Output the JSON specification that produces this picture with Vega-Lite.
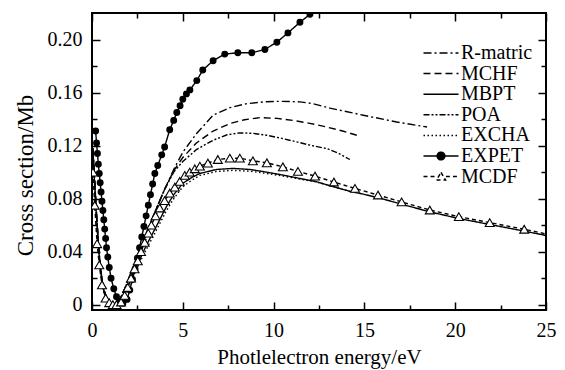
{
  "$schema": "https://vega.github.io/schema/vega-lite/v6.json",
  "width": 454,
  "height": 297,
  "autosize": "none",
  "padding": {"left": 92, "top": 13, "right": 19, "bottom": 60},
  "background": "white",
  "config": {
    "view": {"stroke": "black", "strokeWidth": 2},
    "font": "Liberation Serif",
    "axis": {
      "domain": false, "grid": false, "tickColor": "black", "tickWidth": 1.5,
      "labelFont": "Liberation Serif", "labelFontSize": 20, "labelColor": "black",
      "labelFlush": false, "labelOverlap": false,
      "titleFont": "Liberation Serif", "titleFontWeight": "normal", "titleColor": "black"
    }
  },
  "datasets": {
    "c": [
      {"s":"R-matric","x":0.05,"y":0.118},{"s":"R-matric","x":0.15,"y":0.093},{"s":"R-matric","x":0.25,"y":0.068},{"s":"R-matric","x":0.35,"y":0.047},{"s":"R-matric","x":0.45,"y":0.030},{"s":"R-matric","x":0.6,"y":0.014},{"s":"R-matric","x":0.8,"y":0.005},{"s":"R-matric","x":1.0,"y":0.001},{"s":"R-matric","x":1.2,"y":0.0},{"s":"R-matric","x":1.4,"y":0.002},{"s":"R-matric","x":1.6,"y":0.006},{"s":"R-matric","x":1.8,"y":0.012},{"s":"R-matric","x":2.0,"y":0.019},{"s":"R-matric","x":2.3,"y":0.029},{"s":"R-matric","x":2.6,"y":0.040},{"s":"R-matric","x":3.0,"y":0.054},{"s":"R-matric","x":3.5,"y":0.071},{"s":"R-matric","x":4.0,"y":0.087},{"s":"R-matric","x":4.5,"y":0.102},{"s":"R-matric","x":5.0,"y":0.115},{"s":"R-matric","x":5.75,"y":0.129},{"s":"R-matric","x":6.67,"y":0.1429},{"s":"R-matric","x":7.59,"y":0.1486},{"s":"R-matric","x":8.51,"y":0.1516},{"s":"R-matric","x":9.5,"y":0.153},{"s":"R-matric","x":10.35,"y":0.1534},{"s":"R-matric","x":11.45,"y":0.153},{"s":"R-matric","x":12.18,"y":0.1516},{"s":"R-matric","x":13.1,"y":0.1483},{"s":"R-matric","x":14.94,"y":0.1429},{"s":"R-matric","x":16.78,"y":0.1378},{"s":"R-matric","x":18.45,"y":0.134},
      {"s":"MCHF","x":0.05,"y":0.118},{"s":"MCHF","x":0.15,"y":0.093},{"s":"MCHF","x":0.25,"y":0.068},{"s":"MCHF","x":0.35,"y":0.047},{"s":"MCHF","x":0.45,"y":0.030},{"s":"MCHF","x":0.6,"y":0.014},{"s":"MCHF","x":0.8,"y":0.005},{"s":"MCHF","x":1.0,"y":0.001},{"s":"MCHF","x":1.2,"y":0.0},{"s":"MCHF","x":1.4,"y":0.002},{"s":"MCHF","x":1.6,"y":0.006},{"s":"MCHF","x":1.8,"y":0.012},{"s":"MCHF","x":2.0,"y":0.019},{"s":"MCHF","x":2.3,"y":0.029},{"s":"MCHF","x":2.6,"y":0.040},{"s":"MCHF","x":3.0,"y":0.054},{"s":"MCHF","x":3.5,"y":0.071},{"s":"MCHF","x":4.0,"y":0.087},{"s":"MCHF","x":4.5,"y":0.101},{"s":"MCHF","x":5.0,"y":0.111},{"s":"MCHF","x":5.75,"y":0.122},{"s":"MCHF","x":6.67,"y":0.131},{"s":"MCHF","x":7.59,"y":0.1366},{"s":"MCHF","x":8.4,"y":0.1395},{"s":"MCHF","x":9.25,"y":0.1411},{"s":"MCHF","x":10.2,"y":0.1405},{"s":"MCHF","x":11.08,"y":0.139},{"s":"MCHF","x":12.0,"y":0.1368},{"s":"MCHF","x":12.92,"y":0.134},{"s":"MCHF","x":13.8,"y":0.131},{"s":"MCHF","x":14.58,"y":0.1278},
      {"s":"POA","x":0.05,"y":0.118},{"s":"POA","x":0.15,"y":0.093},{"s":"POA","x":0.25,"y":0.068},{"s":"POA","x":0.35,"y":0.047},{"s":"POA","x":0.45,"y":0.030},{"s":"POA","x":0.6,"y":0.014},{"s":"POA","x":0.8,"y":0.005},{"s":"POA","x":1.0,"y":0.001},{"s":"POA","x":1.2,"y":0.0},{"s":"POA","x":1.4,"y":0.002},{"s":"POA","x":1.6,"y":0.006},{"s":"POA","x":1.8,"y":0.012},{"s":"POA","x":2.0,"y":0.019},{"s":"POA","x":2.3,"y":0.029},{"s":"POA","x":2.6,"y":0.040},{"s":"POA","x":3.0,"y":0.054},{"s":"POA","x":3.5,"y":0.071},{"s":"POA","x":4.0,"y":0.087},{"s":"POA","x":4.5,"y":0.100},{"s":"POA","x":5.0,"y":0.108},{"s":"POA","x":5.75,"y":0.117},{"s":"POA","x":6.67,"y":0.124},{"s":"POA","x":7.4,"y":0.128},{"s":"POA","x":8.14,"y":0.1296},{"s":"POA","x":8.9,"y":0.1292},{"s":"POA","x":9.61,"y":0.1278},{"s":"POA","x":10.4,"y":0.1256},{"s":"POA","x":11.27,"y":0.1228},{"s":"POA","x":12.1,"y":0.120},{"s":"POA","x":12.92,"y":0.1178},{"s":"POA","x":13.6,"y":0.114},{"s":"POA","x":14.2,"y":0.1095},
      {"s":"MBPT","x":0.05,"y":0.115},{"s":"MBPT","x":0.15,"y":0.09},{"s":"MBPT","x":0.25,"y":0.066},{"s":"MBPT","x":0.35,"y":0.045},{"s":"MBPT","x":0.45,"y":0.028},{"s":"MBPT","x":0.6,"y":0.013},{"s":"MBPT","x":0.8,"y":0.004},{"s":"MBPT","x":1.0,"y":0.0008},{"s":"MBPT","x":1.2,"y":0.0},{"s":"MBPT","x":1.4,"y":0.001},{"s":"MBPT","x":1.6,"y":0.004},{"s":"MBPT","x":1.8,"y":0.009},{"s":"MBPT","x":2.0,"y":0.015},{"s":"MBPT","x":2.3,"y":0.024},{"s":"MBPT","x":2.6,"y":0.033},{"s":"MBPT","x":3.0,"y":0.045},{"s":"MBPT","x":3.5,"y":0.058},{"s":"MBPT","x":4.1,"y":0.074},{"s":"MBPT","x":4.5,"y":0.083},{"s":"MBPT","x":5.0,"y":0.0915},{"s":"MBPT","x":5.5,"y":0.096},{"s":"MBPT","x":5.94,"y":0.099},{"s":"MBPT","x":6.86,"y":0.102},{"s":"MBPT","x":7.77,"y":0.1028},{"s":"MBPT","x":8.69,"y":0.102},{"s":"MBPT","x":9.61,"y":0.1},{"s":"MBPT","x":10.53,"y":0.0977},{"s":"MBPT","x":11.45,"y":0.0952},{"s":"MBPT","x":12.37,"y":0.0927},{"s":"MBPT","x":13.29,"y":0.089},{"s":"MBPT","x":14.2,"y":0.0855},{"s":"MBPT","x":15.0,"y":0.0832},{"s":"MBPT","x":16.0,"y":0.0798},{"s":"MBPT","x":17.0,"y":0.076},{"s":"MBPT","x":18.6,"y":0.07},{"s":"MBPT","x":20.2,"y":0.065},{"s":"MBPT","x":21.9,"y":0.0605},{"s":"MBPT","x":23.8,"y":0.0555},{"s":"MBPT","x":25.0,"y":0.0522},
      {"s":"EXCHA","x":0.05,"y":0.112},{"s":"EXCHA","x":0.15,"y":0.087},{"s":"EXCHA","x":0.25,"y":0.064},{"s":"EXCHA","x":0.35,"y":0.043},{"s":"EXCHA","x":0.45,"y":0.027},{"s":"EXCHA","x":0.6,"y":0.012},{"s":"EXCHA","x":0.8,"y":0.004},{"s":"EXCHA","x":1.0,"y":0.001},{"s":"EXCHA","x":1.2,"y":0.0},{"s":"EXCHA","x":1.4,"y":0.001},{"s":"EXCHA","x":1.6,"y":0.003},{"s":"EXCHA","x":1.8,"y":0.008},{"s":"EXCHA","x":2.0,"y":0.013},{"s":"EXCHA","x":2.3,"y":0.022},{"s":"EXCHA","x":2.6,"y":0.031},{"s":"EXCHA","x":3.0,"y":0.042},{"s":"EXCHA","x":3.5,"y":0.055},{"s":"EXCHA","x":4.1,"y":0.071},{"s":"EXCHA","x":4.5,"y":0.080},{"s":"EXCHA","x":5.0,"y":0.089},{"s":"EXCHA","x":5.5,"y":0.094},{"s":"EXCHA","x":5.94,"y":0.0975},{"s":"EXCHA","x":6.86,"y":0.1005},{"s":"EXCHA","x":7.77,"y":0.1013},{"s":"EXCHA","x":8.69,"y":0.1007},{"s":"EXCHA","x":9.61,"y":0.099},{"s":"EXCHA","x":10.53,"y":0.097},{"s":"EXCHA","x":11.45,"y":0.0948},{"s":"EXCHA","x":12.37,"y":0.0925},{"s":"EXCHA","x":13.29,"y":0.089},{"s":"EXCHA","x":14.2,"y":0.0855},
      {"s":"EXPET","x":0.2,"y":0.131},{"s":"EXPET","x":0.25,"y":0.122},{"s":"EXPET","x":0.3,"y":0.114},{"s":"EXPET","x":0.35,"y":0.106},{"s":"EXPET","x":0.4,"y":0.099},{"s":"EXPET","x":0.45,"y":0.092},{"s":"EXPET","x":0.5,"y":0.085},{"s":"EXPET","x":0.55,"y":0.078},{"s":"EXPET","x":0.6,"y":0.071},{"s":"EXPET","x":0.65,"y":0.064},{"s":"EXPET","x":0.7,"y":0.057},{"s":"EXPET","x":0.75,"y":0.05},{"s":"EXPET","x":0.8,"y":0.043},{"s":"EXPET","x":0.87,"y":0.036},{"s":"EXPET","x":0.95,"y":0.028},{"s":"EXPET","x":1.05,"y":0.02},{"s":"EXPET","x":1.2,"y":0.012},{"s":"EXPET","x":1.35,"y":0.006},{"s":"EXPET","x":1.5,"y":0.002},{"s":"EXPET","x":1.7,"y":0.001},{"s":"EXPET","x":1.93,"y":0.004},{"s":"EXPET","x":2.08,"y":0.011},{"s":"EXPET","x":2.23,"y":0.019},{"s":"EXPET","x":2.37,"y":0.027},{"s":"EXPET","x":2.5,"y":0.035},{"s":"EXPET","x":2.62,"y":0.043},{"s":"EXPET","x":2.74,"y":0.051},{"s":"EXPET","x":2.86,"y":0.059},{"s":"EXPET","x":2.98,"y":0.067},{"s":"EXPET","x":3.1,"y":0.075},{"s":"EXPET","x":3.22,"y":0.083},{"s":"EXPET","x":3.34,"y":0.091},{"s":"EXPET","x":3.46,"y":0.099},{"s":"EXPET","x":3.62,"y":0.105},{"s":"EXPET","x":3.84,"y":0.113},{"s":"EXPET","x":4.0,"y":0.119},{"s":"EXPET","x":4.28,"y":0.132},{"s":"EXPET","x":4.5,"y":0.139},{"s":"EXPET","x":4.67,"y":0.145},{"s":"EXPET","x":4.85,"y":0.15},{"s":"EXPET","x":5.0,"y":0.155},{"s":"EXPET","x":5.2,"y":0.159},{"s":"EXPET","x":5.39,"y":0.162},{"s":"EXPET","x":5.77,"y":0.169},{"s":"EXPET","x":6.1,"y":0.177},{"s":"EXPET","x":6.67,"y":0.184},{"s":"EXPET","x":7.31,"y":0.189},{"s":"EXPET","x":8.03,"y":0.19},{"s":"EXPET","x":8.8,"y":0.19},{"s":"EXPET","x":9.52,"y":0.1925},{"s":"EXPET","x":10.18,"y":0.198},{"s":"EXPET","x":10.79,"y":0.205},{"s":"EXPET","x":11.45,"y":0.213},{"s":"EXPET","x":12.0,"y":0.219},{"s":"EXPET","x":12.6,"y":0.226},
      {"s":"MCDF","x":0.05,"y":0.1},{"s":"MCDF","x":0.15,"y":0.075},{"s":"MCDF","x":0.28,"y":0.046},{"s":"MCDF","x":0.4,"y":0.03},{"s":"MCDF","x":0.55,"y":0.015},{"s":"MCDF","x":0.75,"y":0.005},{"s":"MCDF","x":0.95,"y":0.0015},{"s":"MCDF","x":1.15,"y":0.0},{"s":"MCDF","x":1.35,"y":0.0},{"s":"MCDF","x":1.6,"y":0.002},{"s":"MCDF","x":1.8,"y":0.007},{"s":"MCDF","x":1.97,"y":0.013},{"s":"MCDF","x":2.15,"y":0.02},{"s":"MCDF","x":2.34,"y":0.027},{"s":"MCDF","x":2.52,"y":0.033},{"s":"MCDF","x":2.7,"y":0.04},{"s":"MCDF","x":2.9,"y":0.047},{"s":"MCDF","x":3.1,"y":0.054},{"s":"MCDF","x":3.27,"y":0.06},{"s":"MCDF","x":3.5,"y":0.067},{"s":"MCDF","x":3.73,"y":0.0729},{"s":"MCDF","x":4.0,"y":0.0785},{"s":"MCDF","x":4.28,"y":0.0842},{"s":"MCDF","x":4.56,"y":0.0887},{"s":"MCDF","x":4.83,"y":0.093},{"s":"MCDF","x":5.11,"y":0.0975},{"s":"MCDF","x":5.38,"y":0.1},{"s":"MCDF","x":5.66,"y":0.1025},{"s":"MCDF","x":5.94,"y":0.1045},{"s":"MCDF","x":6.38,"y":0.1068},{"s":"MCDF","x":6.93,"y":0.1095},{"s":"MCDF","x":7.59,"y":0.1105},{"s":"MCDF","x":8.14,"y":0.1105},{"s":"MCDF","x":8.86,"y":0.1085},{"s":"MCDF","x":9.63,"y":0.107},{"s":"MCDF","x":10.51,"y":0.104},{"s":"MCDF","x":11.34,"y":0.1005},{"s":"MCDF","x":12.28,"y":0.097},{"s":"MCDF","x":13.32,"y":0.0925},{"s":"MCDF","x":14.48,"y":0.0877},{"s":"MCDF","x":15.75,"y":0.0827},{"s":"MCDF","x":17.05,"y":0.0775},{"s":"MCDF","x":18.6,"y":0.0714},{"s":"MCDF","x":20.2,"y":0.0664},{"s":"MCDF","x":21.9,"y":0.0619},{"s":"MCDF","x":23.8,"y":0.0569},{"s":"MCDF","x":25.0,"y":0.0534}
    ]
  },
  "data": {"name": "c"},
  "layer": [
    {
      "mark": {"type": "line", "color": "black", "strokeWidth": 1.4, "clip": true},
      "encoding": {
        "x": {"field": "x", "type": "quantitative", "scale": {"domain": [0, 25], "nice": false, "zero": false},
          "axis": {"orient": "bottom", "values": [0, 5, 10, 15, 20, 25], "tickSize": -8, "labelPadding": 18,
            "title": "Photlelectron energy/eV", "titleFontSize": 21, "titlePadding": 6}},
        "y": {"field": "y", "type": "quantitative", "scale": {"domain": [-0.004, 0.22], "nice": false, "zero": false},
          "axis": {"orient": "left", "values": [0, 0.04, 0.08, 0.12, 0.16, 0.2], "tickSize": -8, "labelPadding": 18,
            "labelExpr": "datum.value == 0 ? '0' : format(datum.value, '.2f')",
            "title": "Cross section/Mb", "titleFontSize": 23, "titlePadding": 10, "titleY": 162, "titleAlign": "center"}},
        "strokeDash": {"field": "s", "type": "nominal",
          "scale": {"domain": ["R-matric", "MCHF", "MBPT", "POA", "EXCHA", "EXPET", "MCDF"],
            "range": [[8, 3, 2, 3], [7, 4], [1, 0], [6, 2, 2, 2, 2, 2], [1.5, 2.5], [1, 0], [4, 3]]},
          "legend": {
            "orient": "none", "legendX": 329, "legendY": 30, "title": null, "padding": 0,
            "symbolSize": 196, "symbolOffset": 10, "labelOffset": 10,
            "symbolStrokeWidth": 1.5, "symbolStrokeColor": "black",
            "labelFont": "Liberation Serif", "labelFontSize": 20, "labelColor": "black",
            "rowPadding": 0.6, "symbolType": "M-2.5,0H2.5",
            "encode": {"symbols": {"update": {
              "shape": {"signal": "datum.value === 'EXPET' ? 'M-2.5,0H2.5M0.55,0A0.55,0.55 0 1,1 -0.55,0A0.55,0.55 0 1,1 0.55,0' : datum.value === 'MCDF' ? 'M-2.5,0H-0.7M0.7,0H2.5M0,-0.6L0.65,0.5L-0.65,0.5Z' : 'M-2.5,0H2.5'"},
              "fill": {"signal": "datum.value === 'EXPET' ? 'black' : datum.value === 'MCDF' ? 'white' : 'transparent'"},
              "stroke": {"value": "black"}
            }}}
          }}
      }
    },
    {
      "transform": [{"filter": "datum.s === 'EXPET'"}],
      "mark": {"type": "point", "shape": "circle", "filled": true, "color": "black", "size": 48, "opacity": 1, "clip": true},
      "encoding": {
        "x": {"field": "x", "type": "quantitative", "axis": {"orient": "top", "values": [0, 5, 10, 15, 20, 25], "tickSize": -8, "labels": false, "title": null}},
        "y": {"field": "y", "type": "quantitative", "axis": {"orient": "right", "values": [0, 0.04, 0.08, 0.12, 0.16, 0.2], "tickSize": -8, "labels": false, "title": null}}
      }
    },
    {
      "transform": [{"filter": "datum.s === 'MCDF' && datum.x < 24.9"}],
      "mark": {"type": "point", "shape": "triangle-up", "filled": true, "fill": "white", "stroke": "black", "strokeWidth": 1.1, "size": 80, "opacity": 1, "clip": true},
      "encoding": {
        "x": {"field": "x", "type": "quantitative", "axis": {"orient": "bottom", "values": [2.5, 7.5, 12.5, 17.5, 22.5], "tickSize": -5, "labels": false, "title": null}},
        "y": {"field": "y", "type": "quantitative", "axis": {"orient": "left", "values": [0.02, 0.06, 0.1, 0.14, 0.18], "tickSize": -5, "labels": false, "title": null}}
      }
    },
    {
      "transform": [{"filter": "datum.s === 'EXPET'"}],
      "mark": {"type": "point", "opacity": 0},
      "encoding": {
        "x": {"field": "x", "type": "quantitative", "axis": {"orient": "top", "values": [2.5, 7.5, 12.5, 17.5, 22.5], "tickSize": -5, "labels": false, "title": null}},
        "y": {"field": "y", "type": "quantitative", "axis": {"orient": "right", "values": [0.02, 0.06, 0.1, 0.14, 0.18], "tickSize": -5, "labels": false, "title": null}}
      }
    }
  ],
  "resolve": {"axis": {"x": "independent", "y": "independent"}}
}
